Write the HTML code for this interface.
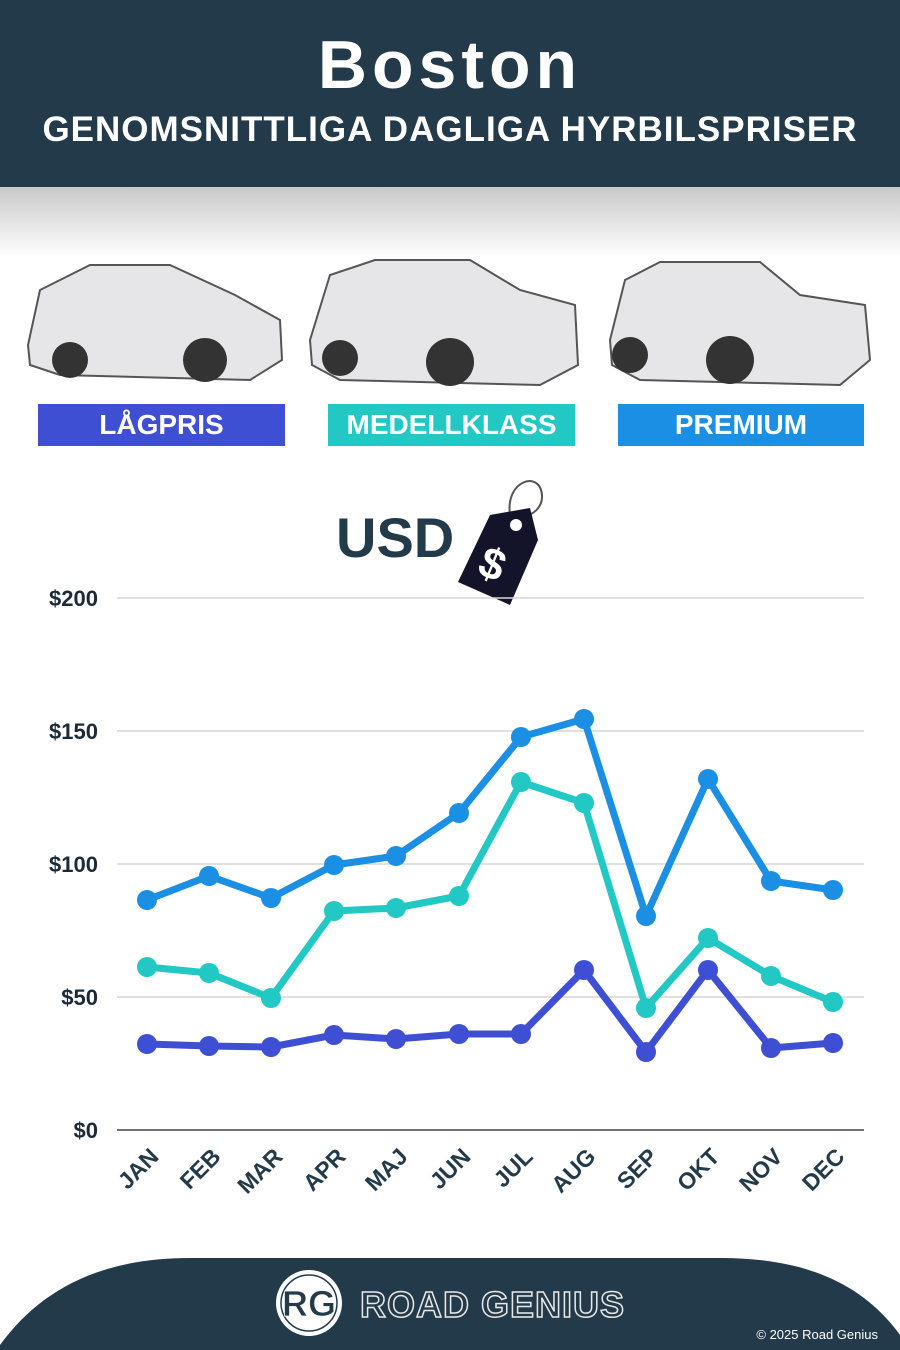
<!DOCTYPE html>
<html><head><meta charset="utf-8"><style>
body{margin:0;width:900px;height:1350px;background:#fff;position:relative;overflow:hidden;font-family:"Liberation Sans",sans-serif}
.hdr{position:absolute;left:0;top:0;width:900px;height:187px;background:#233a4a;color:#fff;text-align:center}
.t1{position:absolute;top:26px;width:100%;font-size:68px;font-weight:bold;letter-spacing:5px}
.t2{position:absolute;top:110px;width:100%;font-size:35px;font-weight:bold;letter-spacing:1px}
.shade{position:absolute;top:187px;left:0;width:900px;height:70px;background:linear-gradient(#c8c8c8,#fff)}
.lab{position:absolute;top:404px;height:42px;color:#fff;font-weight:bold;font-size:28px;text-align:center;line-height:42px}
</style></head><body>
<div class="hdr"><div class="t1">Boston</div><div class="t2">GENOMSNITTLIGA DAGLIGA HYRBILSPRISER</div></div>
<div class="shade"></div>
<svg style="position:absolute;left:0;top:250px" width="900" height="150">
<g fill="#e6e6e8" stroke="#555" stroke-width="2">
<path d="M28 95 L40 40 L90 15 L170 15 L235 45 L280 70 L282 110 L250 130 L60 125 L30 115Z"/>
<path d="M310 90 L330 25 L375 10 L470 10 L520 40 L575 55 L578 115 L540 135 L340 130 L312 115Z"/>
<path d="M610 90 L625 30 L660 12 L760 12 L800 45 L865 55 L870 110 L840 135 L640 130 L612 115Z"/>
</g>
<g fill="#333"><circle cx="70" cy="110" r="18"/><circle cx="205" cy="110" r="22"/><circle cx="340" cy="108" r="18"/><circle cx="450" cy="112" r="24"/><circle cx="630" cy="105" r="18"/><circle cx="730" cy="110" r="24"/></g>
</svg>
<div class="lab" style="left:38px;width:247px;background:#3f4fd4">LÅGPRIS</div>
<div class="lab" style="left:328px;width:247px;background:#22c9c4">MEDELLKLASS</div>
<div class="lab" style="left:618px;width:246px;background:#1a8fe3">PREMIUM</div>
<div style="position:absolute;left:336px;top:505px;font-size:56px;font-weight:bold;color:#233a4a">USD</div>
<svg style="position:absolute;left:450px;top:470px" width="100" height="140">
<path d="M60 45 C55 10 90 0 92 25 C93 40 80 45 70 50" fill="none" stroke="#555" stroke-width="2"/>
<path d="M40 45 L80 38 L88 70 L60 135 L8 112 Z" fill="#13132a"/>
<circle cx="66" cy="55" r="6" fill="#fff"/>
<text x="30" y="110" font-size="44" font-weight="bold" fill="#fff" transform="rotate(22 45 95)" font-family="Liberation Sans">$</text>
</svg>
<svg style="position:absolute;left:0;top:0" width="900" height="1350">
<g stroke="#d6d6d6" stroke-width="1.5"><line x1="117" x2="864" y1="598" y2="598"/><line x1="117" x2="864" y1="731" y2="731"/><line x1="117" x2="864" y1="864" y2="864"/><line x1="117" x2="864" y1="997" y2="997"/></g>
<line x1="117" x2="864" y1="1130" y2="1130" stroke="#444" stroke-width="1.5"/>
<g font-family="Liberation Sans" font-weight="bold" font-size="22" fill="#1a2a38" text-anchor="end">
<text x="98" y="606">$200</text><text x="98" y="739">$150</text><text x="98" y="872">$100</text><text x="98" y="1005">$50</text><text x="98" y="1138">$0</text>
</g>
<g font-family="Liberation Sans" font-weight="bold" font-size="23" fill="#233a4a" text-anchor="end">
<text transform="translate(160,1158) rotate(-45)">JAN</text><text transform="translate(222,1158) rotate(-45)">FEB</text><text transform="translate(284,1158) rotate(-45)">MAR</text><text transform="translate(347,1158) rotate(-45)">APR</text><text transform="translate(409,1158) rotate(-45)">MAJ</text><text transform="translate(472,1158) rotate(-45)">JUN</text><text transform="translate(534,1158) rotate(-45)">JUL</text><text transform="translate(597,1158) rotate(-45)">AUG</text><text transform="translate(659,1158) rotate(-45)">SEP</text><text transform="translate(721,1158) rotate(-45)">OKT</text><text transform="translate(784,1158) rotate(-45)">NOV</text><text transform="translate(846,1158) rotate(-45)">DEC</text>
</g>
<g fill="none" stroke-width="7" stroke-linejoin="round" stroke-linecap="round">
<polyline stroke="#1a8fe3" points="147,900 209,876 271,898 334,865 396,856 459,813 521,737 584,719 646,916 708,779 771,881 833,890"/>
<polyline stroke="#22c9c4" points="147,967 209,973 271,998 334,911 396,908 459,896 521,782 584,803 646,1008 708,938 771,976 833,1002"/>
<polyline stroke="#3f4fd4" points="147,1044 209,1046 271,1047 334,1035 396,1039 459,1034 521,1034 584,970 646,1052 708,970 771,1048 833,1043"/>
</g>
<g fill="#1a8fe3"><circle cx="147" cy="900" r="10"/><circle cx="209" cy="876" r="10"/><circle cx="271" cy="898" r="10"/><circle cx="334" cy="865" r="10"/><circle cx="396" cy="856" r="10"/><circle cx="459" cy="813" r="10"/><circle cx="521" cy="737" r="10"/><circle cx="584" cy="719" r="10"/><circle cx="646" cy="916" r="10"/><circle cx="708" cy="779" r="10"/><circle cx="771" cy="881" r="10"/><circle cx="833" cy="890" r="10"/></g>
<g fill="#22c9c4"><circle cx="147" cy="967" r="10"/><circle cx="209" cy="973" r="10"/><circle cx="271" cy="998" r="10"/><circle cx="334" cy="911" r="10"/><circle cx="396" cy="908" r="10"/><circle cx="459" cy="896" r="10"/><circle cx="521" cy="782" r="10"/><circle cx="584" cy="803" r="10"/><circle cx="646" cy="1008" r="10"/><circle cx="708" cy="938" r="10"/><circle cx="771" cy="976" r="10"/><circle cx="833" cy="1002" r="10"/></g>
<g fill="#3f4fd4"><circle cx="147" cy="1044" r="10"/><circle cx="209" cy="1046" r="10"/><circle cx="271" cy="1047" r="10"/><circle cx="334" cy="1035" r="10"/><circle cx="396" cy="1039" r="10"/><circle cx="459" cy="1034" r="10"/><circle cx="521" cy="1034" r="10"/><circle cx="584" cy="970" r="10"/><circle cx="646" cy="1052" r="10"/><circle cx="708" cy="970" r="10"/><circle cx="771" cy="1048" r="10"/><circle cx="833" cy="1043" r="10"/></g>
<path d="M0 1350 L0 1345 C40 1290 100 1258 190 1258 L720 1258 C800 1258 860 1280 900 1335 L900 1350Z" fill="#233a4a"/>
<circle cx="309" cy="1303" r="33" fill="#fff"/><circle cx="309" cy="1303" r="28" fill="none" stroke="#233a4a" stroke-width="1.5"/>
<text x="309" y="1316" text-anchor="middle" font-family="Liberation Sans" font-weight="bold" font-size="36" fill="#233a4a" stroke="#fff" stroke-width="0.8">RG</text>
<text x="360" y="1317" font-family="Liberation Sans" font-weight="bold" font-size="36" fill="#233a4a" stroke="#e8e8e8" stroke-width="1.5" letter-spacing="1">ROAD GENIUS</text>
<text x="878" y="1339" text-anchor="end" font-family="Liberation Sans" font-size="13" fill="#fff">© 2025 Road Genius</text>
</svg>
</body></html>
